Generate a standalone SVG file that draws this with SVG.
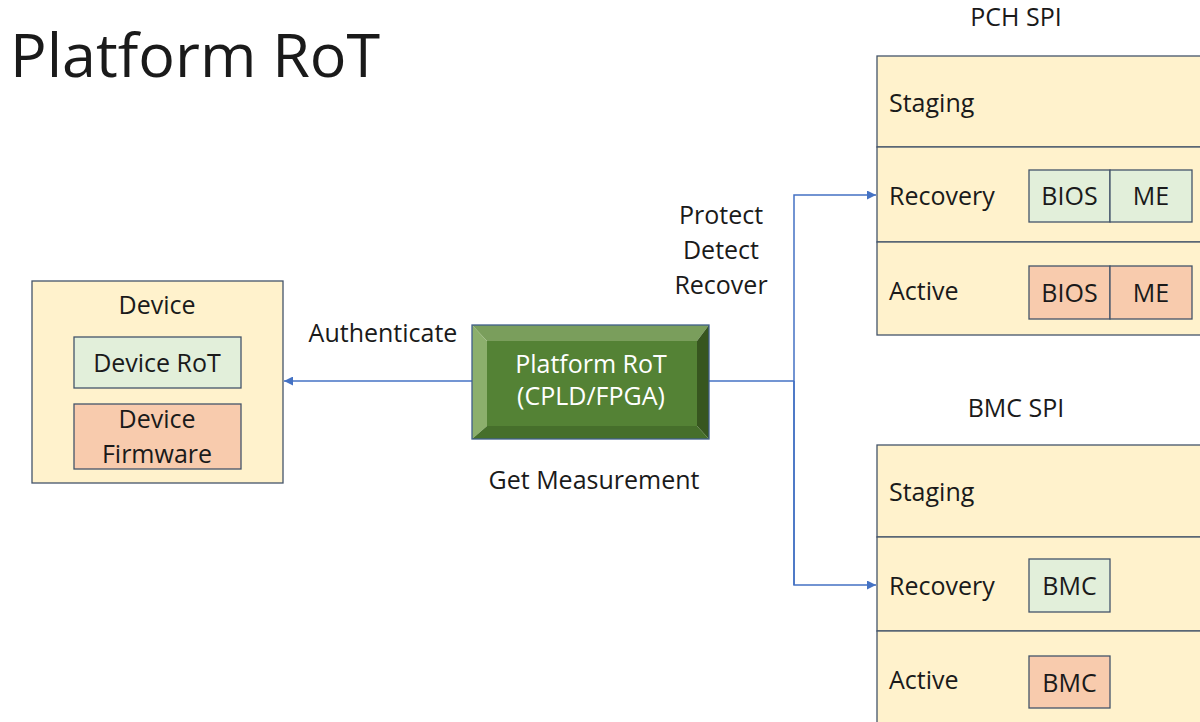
<svg xmlns="http://www.w3.org/2000/svg" width="1200" height="722" viewBox="0 0 1200 722">
<style>
text{font-family:"Open Sans","Liberation Sans",sans-serif;fill:#1a1a1a}
.lbl{font-size:25px}
.mid{text-anchor:middle}
.box{fill:#FFF2CC;stroke:#44546A;stroke-width:1.3}
.grn{fill:#E2EFDA;stroke:#44546A;stroke-width:1.3}
.org{fill:#F8CBAD;stroke:#44546A;stroke-width:1.3}
.conn{fill:none;stroke:#4472C4;stroke-width:1.5}
</style>
<defs>
<marker id="arr" viewBox="0 0 10 10" refX="10" refY="5" markerWidth="9" markerHeight="9" markerUnits="userSpaceOnUse" orient="auto">
<path d="M0,0 L10,5 L0,10 z" fill="#4472C4"/>
</marker>
</defs>
<rect width="1200" height="722" fill="#ffffff"/>
<text x="10" y="77" style="font-size:61px" fill="#1a1a1a">Platform RoT</text>

<g id="connectors">
<path class="conn" d="M472,381 L284,381" marker-end="url(#arr)"/>
<path class="conn" d="M709,381 L794,381"/>
<path class="conn" d="M794,585 L794,195 L876,195" marker-end="url(#arr)"/>
<path class="conn" d="M794,381 L794,585 L876,585" marker-end="url(#arr)"/>
</g>

<g id="device">
<rect class="box" x="32" y="281" width="251" height="202"/>
<text class="lbl mid" x="157" y="314">Device</text>
<g id="device-rot">
<rect class="grn" x="74" y="337" width="167" height="51"/>
<text class="lbl mid" x="157" y="372">Device RoT</text>
</g>
<g id="device-firmware">
<rect class="org" x="74" y="404" width="167" height="65"/>
<text class="lbl mid" x="157" y="428">Device</text>
<text class="lbl mid" x="157" y="463">Firmware</text>
</g>
</g>

<g id="platform-rot">
<polygon points="472,325 709,325 697,341 487,341" fill="#7A9E5C"/>
<polygon points="472,325 487,341 487,426 472,439" fill="#8CAF6C"/>
<polygon points="709,325 709,439 697,426 697,341" fill="#37561F"/>
<polygon points="472,439 709,439 697,426 487,426" fill="#466F2B"/>
<rect x="487" y="341" width="210" height="85" fill="#548235"/>
<rect x="472" y="325" width="237" height="114" fill="none" stroke="#3F5F8A" stroke-width="1.3"/>
<text class="lbl mid" x="591" y="373" style="fill:#ffffff">Platform RoT</text>
<text class="lbl mid" x="591" y="405" style="fill:#ffffff">(CPLD/FPGA)</text>
</g>

<g id="labels">
<text class="lbl mid" x="383" y="342">Authenticate</text>
<text class="lbl mid" x="721" y="224">Protect</text>
<text class="lbl mid" x="721" y="259">Detect</text>
<text class="lbl mid" x="721" y="294">Recover</text>
<text class="lbl mid" x="594" y="489">Get Measurement</text>
</g>

<g id="pch-spi">
<text class="lbl mid" x="1016" y="26">PCH SPI</text>
<rect class="box" x="877" y="56" width="330" height="91"/>
<rect class="box" x="877" y="147" width="330" height="95"/>
<rect class="box" x="877" y="242" width="330" height="93"/>
<text class="lbl" x="889" y="112">Staging</text>
<text class="lbl" x="889" y="205">Recovery</text>
<text class="lbl" x="889" y="300">Active</text>
<g id="pch-rec-bios"><rect class="grn" x="1029" y="170" width="81" height="52"/><text class="lbl mid" x="1069.5" y="205">BIOS</text></g>
<g id="pch-rec-me"><rect class="grn" x="1110" y="170" width="82" height="52"/><text class="lbl mid" x="1151" y="205">ME</text></g>
<g id="pch-act-bios"><rect class="org" x="1029" y="266" width="81" height="53"/><text class="lbl mid" x="1069.5" y="302">BIOS</text></g>
<g id="pch-act-me"><rect class="org" x="1110" y="266" width="82" height="53"/><text class="lbl mid" x="1151" y="302">ME</text></g>
</g>

<g id="bmc-spi">
<text class="lbl mid" x="1016" y="417">BMC SPI</text>
<rect class="box" x="877" y="445" width="330" height="92"/>
<rect class="box" x="877" y="537" width="330" height="94"/>
<rect class="box" x="877" y="631" width="330" height="100"/>
<text class="lbl" x="889" y="501">Staging</text>
<text class="lbl" x="889" y="595">Recovery</text>
<text class="lbl" x="889" y="689">Active</text>
<g id="bmc-rec"><rect class="grn" x="1029" y="559" width="81" height="53"/><text class="lbl mid" x="1069.5" y="595">BMC</text></g>
<g id="bmc-act"><rect class="org" x="1029" y="656" width="81" height="52"/><text class="lbl mid" x="1069.5" y="692">BMC</text></g>
</g>
</svg>
